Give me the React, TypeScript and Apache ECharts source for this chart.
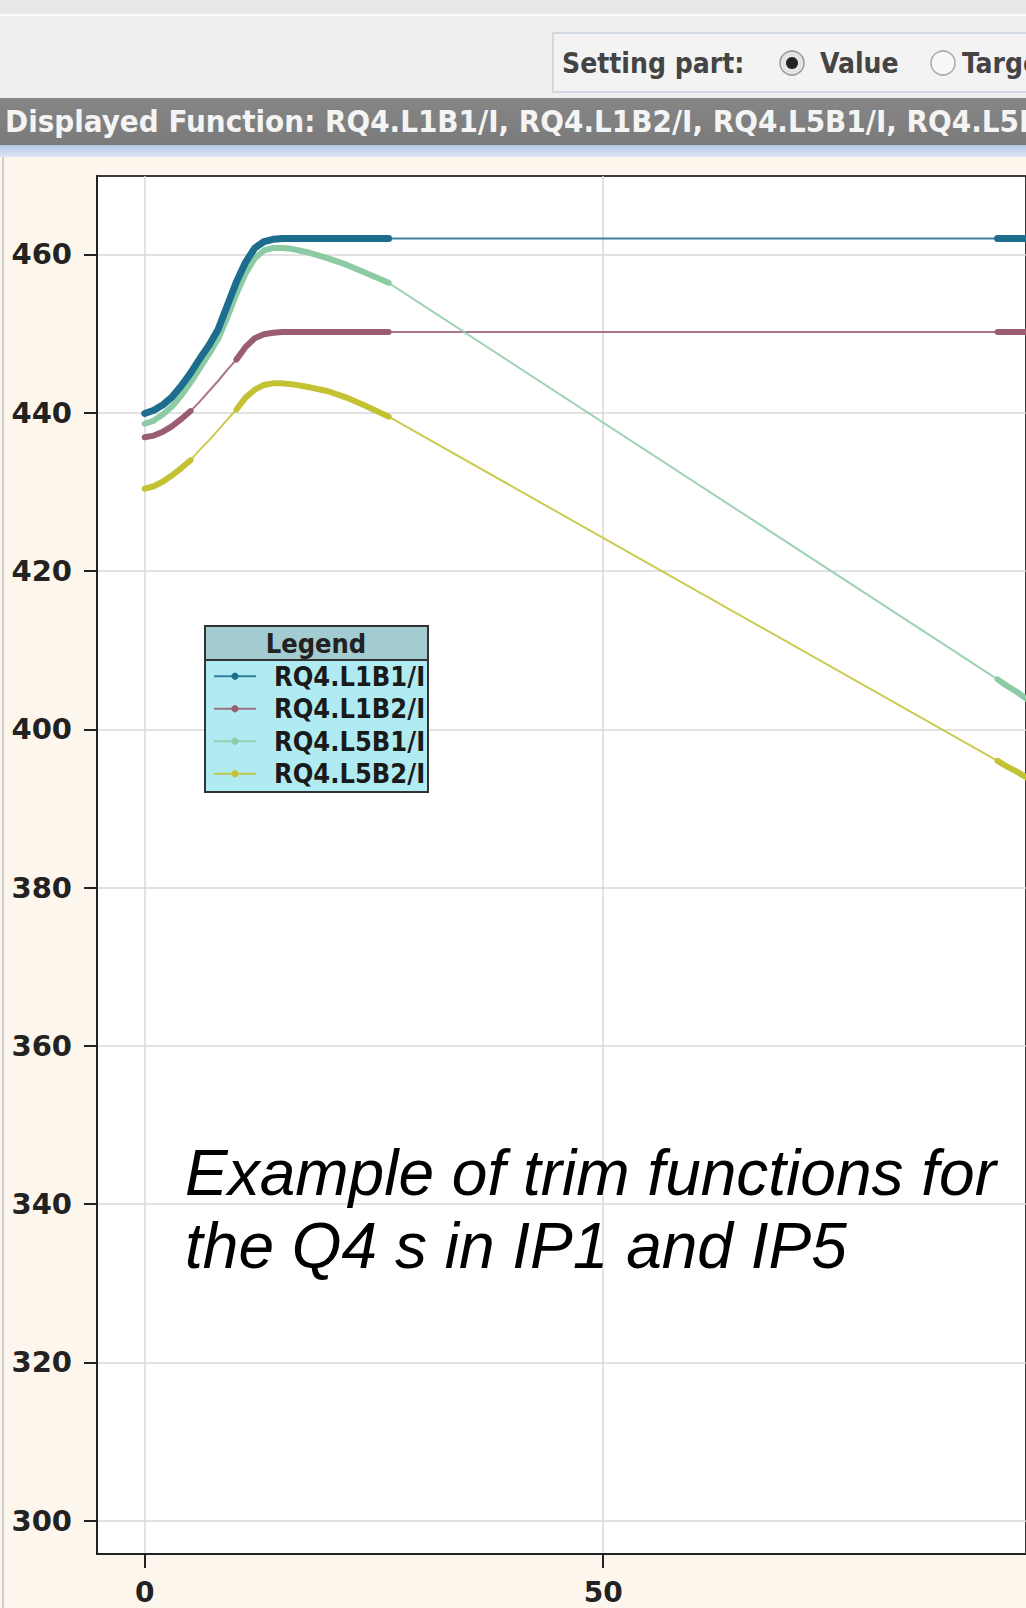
import React, { useEffect, useRef } from "react";
import * as echarts from "echarts";

// ---- data ----
const seriesNames = ["RQ4.L1B1/I", "RQ4.L1B2/I", "RQ4.L5B1/I", "RQ4.L5B2/I"];
const seriesColors = ["#1d6d8e", "#9b5d72", "#8ccba4", "#c2c232"];

const xValues = [0, 1, 2, 3, 4, 5, 6, 7, 8, 9, 10, 11, 12, 13, 14, 15, 16, 18, 20, 22, 24, 26.6, 93, 94, 95, 96.2];

const l1b1 = [439.9, 440.3, 441.0, 442.0, 443.4, 445.0, 446.8, 448.5, 450.5, 453.5, 456.5, 459.0, 460.8, 461.6, 461.9, 462, 462, 462, 462, 462, 462, 462, 462, 462, 462, 462];
const l1b2 = [436.9, 437.1, 437.6, 438.3, 439.2, 440.2, 441.4, 442.7, 444.0, 445.4, 446.7, 448.3, 449.4, 449.9, 450.1, 450.2, 450.2, 450.2, 450.2, 450.2, 450.2, 450.2, 450.2, 450.2, 450.2, 450.2];
const l5b1 = [438.6, 439.0, 439.8, 440.8, 442.2, 443.8, 445.6, 447.4, 449.3, 452.0, 455.0, 457.6, 459.5, 460.5, 460.8, 460.8, 460.7, 460.2, 459.5, 458.7, 457.7, 456.4, 406.3, 405.5, 404.8, 403.8];
const l5b2 = [430.4, 430.7, 431.3, 432.1, 433.0, 434.0, 435.3, 436.5, 437.8, 439.1, 440.4, 441.9, 442.9, 443.5, 443.7, 443.7, 443.6, 443.2, 442.7, 441.9, 440.9, 439.5, 396.0, 395.3, 394.7, 393.9];
const seriesValues = [l1b1, l1b2, l5b1, l5b2];

// x ranges where the original shows dense (thick) point clusters
const thickRanges = [
  [[0, 26.6], [93, 96.2]],
  [[0, 5], [10, 26.6], [93, 96.2]],
  [[0, 26.6], [93, 96.2]],
  [[0, 5], [10, 26.6], [93, 96.2]],
];

const yTickValues = [300, 320, 340, 360, 380, 400, 420, 440, 460];
const xTickValues = [0, 50];
const xMin = -5.2;
const xMax = 96.1;
const yMin = 295.8;
const yMax = 469.9;

const headerText = "Displayed Function: RQ4.L1B1/I, RQ4.L1B2/I, RQ4.L5B1/I, RQ4.L5B2/I";
const noteLines = ["Example of trim functions for", "the Q4 s in IP1 and IP5"];

const COND = "'DejaVu Sans Condensed', 'Liberation Sans Narrow', sans-serif";

function buildThick(ys: number[], ranges: number[][]) {
  const out: any[] = [];
  ranges.forEach(([a, b], k) => {
    if (k > 0) out.push([a, "-"]);
    xValues.forEach((x, i) => {
      if (x >= a && x <= b) out.push([x, ys[i]]);
    });
  });
  return out;
}

export default function App() {
  const ref = useRef<HTMLDivElement>(null);
  useEffect(() => {
    if (!ref.current) return;
    const chart = echarts.init(ref.current, undefined, { renderer: "svg" });

    const thinSeries = seriesNames.map((name, k) => ({
      name,
      type: "line",
      data: xValues.map((x, i) => [x, seriesValues[k][i]]),
      showSymbol: false,
      symbol: "circle",
      symbolSize: 6,
      itemStyle: { color: seriesColors[k] },
      lineStyle: { color: seriesColors[k], width: 2, opacity: 0.85 },
      z: 3,
      silent: true,
    }));
    const thickSeries = seriesNames.map((name, k) => ({
      name,
      type: "line",
      data: buildThick(seriesValues[k], thickRanges[k]),
      showSymbol: false,
      connectNulls: false,
      itemStyle: { color: seriesColors[k] },
      lineStyle: { color: seriesColors[k], width: k === 0 ? 7 : 6, cap: "round", join: "round" },
      z: 4 + (k === 0 ? 1 : 0),
      silent: true,
    }));

    const graphic: any[] = [
      { type: "rect", shape: { x: 0, y: 0, width: 1026, height: 98 }, style: { fill: "#eeeeee" }, z: 1 },
      { type: "rect", shape: { x: 0, y: 0, width: 1026, height: 14 }, style: { fill: "#e8e8e8" }, z: 1 },
      { type: "line", shape: { x1: 0, y1: 15, x2: 1026, y2: 15 }, style: { stroke: "#fafafa", lineWidth: 2 }, z: 1 },
      { type: "rect", shape: { x: 553, y: 33, width: 480, height: 59 }, style: { fill: "#f3f3f3", stroke: "#c8d1db", lineWidth: 1.5 }, z: 2 },
      { type: "text", x: 562, y: 63, style: { text: "Setting part:", font: `bold 28px ${COND}`, fill: "#444", verticalAlign: "middle" }, z: 3 },
      { type: "circle", shape: { cx: 792, cy: 63, r: 12 }, style: { fill: "#e4e4e4", stroke: "#9a9a9a", lineWidth: 1.5 }, z: 3 },
      { type: "circle", shape: { cx: 792, cy: 63, r: 6 }, style: { fill: "#222" }, z: 4 },
      { type: "text", x: 820, y: 63, style: { text: "Value", font: `bold 28px ${COND}`, fill: "#444", verticalAlign: "middle" }, z: 3 },
      { type: "circle", shape: { cx: 943, cy: 63, r: 12 }, style: { fill: "#f8f8f8", stroke: "#aaaaaa", lineWidth: 1.5 }, z: 3 },
      { type: "text", x: 962, y: 63, style: { text: "Target", font: `bold 28px ${COND}`, fill: "#444", verticalAlign: "middle" }, z: 3 },
      {
        type: "rect", shape: { x: 0, y: 98, width: 1026, height: 47 },
        style: { fill: new echarts.graphic.LinearGradient(0, 0, 0, 1, [{ offset: 0, color: "#868686" }, { offset: 1, color: "#7a7a7a" }]) }, z: 1,
      },
      { type: "text", x: 5, y: 121, style: { text: headerText, font: `bold 31px ${COND}`, fill: "#f4f4f4", verticalAlign: "middle" }, z: 3 },
      {
        type: "rect", shape: { x: 0, y: 145, width: 1026, height: 12 },
        style: { fill: new echarts.graphic.LinearGradient(0, 0, 0, 1, [{ offset: 0, color: "#b5c9e6" }, { offset: 1, color: "#dde7f4" }]) }, z: 1,
      },
      { type: "line", shape: { x1: 3, y1: 157, x2: 3, y2: 1608 }, style: { stroke: "#cfcfcf", lineWidth: 2 }, z: 1 },
      // legend box
      { type: "rect", shape: { x: 205, y: 626, width: 223, height: 166 }, style: { fill: "#b0ebf1", stroke: "#333", lineWidth: 2 }, z: 30 },
      { type: "rect", shape: { x: 205, y: 626, width: 223, height: 34 }, style: { fill: "#a2ccd0", stroke: "#333", lineWidth: 2 }, z: 31 },
      { type: "text", x: 316, y: 643, style: { text: "Legend", font: `bold 27px ${COND}`, fill: "#222", align: "center", verticalAlign: "middle" }, z: 32 },
      // annotation
      { type: "text", x: 185, y: 1173, style: { text: noteLines[0], font: "italic 64px 'Liberation Sans', Arial, sans-serif", fill: "#000", verticalAlign: "middle" }, z: 40 },
      { type: "text", x: 185, y: 1246, style: { text: noteLines[1], font: "italic 64px 'Liberation Sans', Arial, sans-serif", fill: "#000", verticalAlign: "middle" }, z: 40 },
    ];

    chart.setOption({
      animation: false,
      backgroundColor: "#fcf6ec",
      grid: {
        left: 97, top: 176, right: 0, bottom: 54,
        show: true, backgroundColor: "#ffffff", borderColor: "#3a3a3a", borderWidth: 2,
      },
      xAxis: {
        type: "value", min: xMin, max: xMax, splitNumber: 2,
        axisLine: { show: true, onZero: false, lineStyle: { color: "#222", width: 2 } },
        axisTick: { show: true, length: 14, customValues: xTickValues, lineStyle: { color: "#222", width: 2 } },
        axisLabel: {
          customValues: xTickValues, margin: 25, lineHeight: 27,
          fontFamily: "'DejaVu Sans', sans-serif", fontWeight: "bold", fontSize: 28, color: "#222",
        },
        splitLine: { show: true, lineStyle: { color: "#d8d8d8", width: 1.5 } },
      },
      yAxis: {
        type: "value", min: yMin, max: yMax, splitNumber: 9,
        axisLine: { show: true, onZero: false, lineStyle: { color: "#222", width: 2 } },
        axisTick: { show: true, length: 13, customValues: yTickValues, lineStyle: { color: "#222", width: 2 } },
        axisLabel: {
          customValues: yTickValues, margin: 25,
          fontFamily: "'DejaVu Sans', sans-serif", fontWeight: "bold", fontSize: 29, color: "#222",
        },
        splitLine: { show: true, lineStyle: { color: "#d8d8d8", width: 1.5 } },
      },
      legend: {
        data: seriesNames,
        orient: "vertical",
        left: 213, top: 660,
        padding: 0,
        itemGap: 0,
        itemWidth: 42, itemHeight: 9,
        selectedMode: false,
        z: 35,
        textStyle: {
          fontFamily: COND, fontWeight: "bold", fontSize: 27, color: "#1a1a1a",
          lineHeight: 32.5, padding: [0, 0, 0, 13],
        },
      },
      graphic,
      series: [...thinSeries, ...thickSeries],
    });

    return () => chart.dispose();
  }, []);

  return (
    <div
      ref={ref}
      style={{ position: "fixed", left: 0, top: 0, width: 1026, height: 1608 }}
    />
  );
}
